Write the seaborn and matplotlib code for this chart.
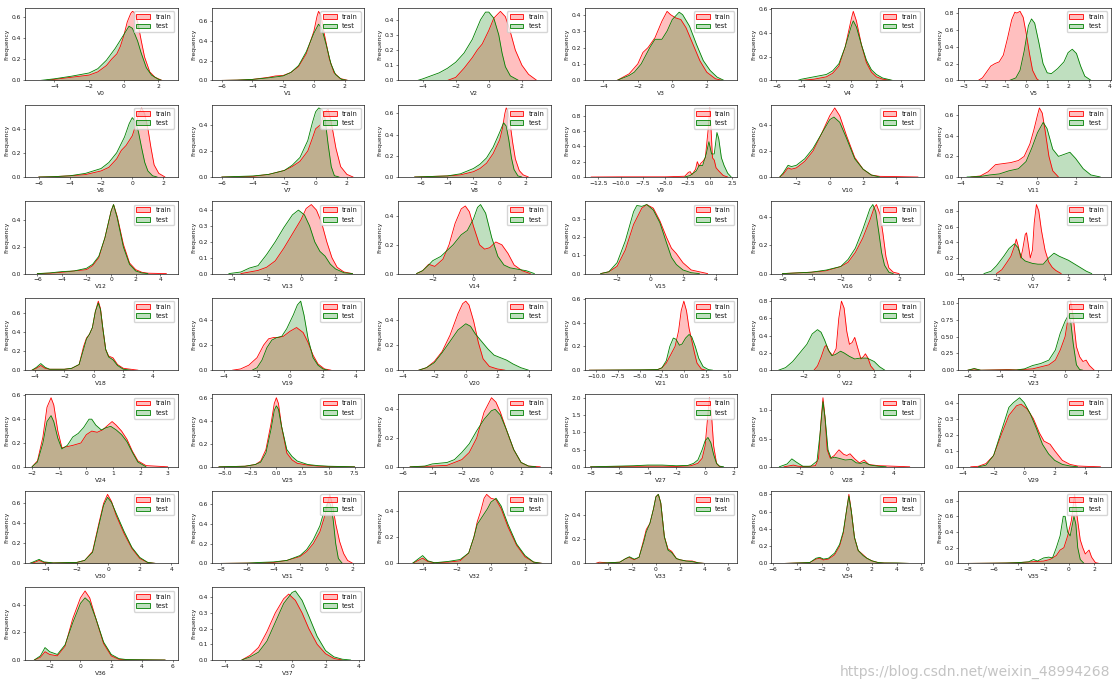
import matplotlib
matplotlib.use("Agg")
import matplotlib.pyplot as plt
import seaborn as sns
from matplotlib.colors import to_rgba
from matplotlib.patches import Patch
from matplotlib.ticker import MultipleLocator, MaxNLocator

# columns of the dataset, in plot order
columns = ["V%d" % i for i in range(38)]

# density curves: (value, density) pairs
train_curves = {
    "V0": [(-4.5, 0), (-4, 0.01), (-3, 0.03), (-2, 0.05), (-1.5, 0.08), (-1, 0.14), (-0.7, 0.2), (-0.4, 0.25), (-0.2, 0.32), (0, 0.42), (0.2, 0.55), (0.4, 0.63), (0.5, 0.65), (0.6, 0.64), (0.8, 0.55), (1.0, 0.38), (1.2, 0.22), (1.5, 0.08), (1.8, 0.03), (2.2, 0)],
    "V1": [(-6, 0), (-5, 0.003), (-4, 0.01), (-3, 0.03), (-2.5, 0.045), (-2, 0.05), (-1.5, 0.08), (-1, 0.14), (-0.5, 0.27), (0, 0.5), (0.2, 0.65), (0.3, 0.7), (0.45, 0.66), (0.7, 0.45), (1.0, 0.22), (1.3, 0.08), (1.7, 0.02), (2.2, 0)],
    "V2": [(-2.5, 0), (-2, 0.02), (-1.5, 0.08), (-1, 0.15), (-0.7, 0.2), (-0.4, 0.24), (0, 0.33), (0.3, 0.41), (0.7, 0.455), (1.0, 0.42), (1.3, 0.32), (1.6, 0.2), (2, 0.1), (2.4, 0.04), (2.9, 0)],
    "V3": [(-3.2, 0), (-2.5, 0.04), (-2, 0.1), (-1.7, 0.17), (-1.4, 0.2), (-1, 0.26), (-0.6, 0.36), (-0.3, 0.42), (-0.1, 0.4), (0.2, 0.38), (0.5, 0.37), (0.8, 0.32), (1.2, 0.22), (1.6, 0.12), (2, 0.05), (2.5, 0.01), (2.9, 0)],
    "V4": [(-4, 0), (-3, 0.01), (-2, 0.03), (-1.5, 0.06), (-1, 0.12), (-0.5, 0.28), (0, 0.52), (0.15, 0.58), (0.4, 0.5), (0.8, 0.3), (1.2, 0.15), (1.6, 0.07), (2, 0.03), (2.5, 0.01), (3.2, 0)],
    "V5": [(-2.3, 0), (-2.1, 0.03), (-1.9, 0.1), (-1.7, 0.17), (-1.5, 0.2), (-1.3, 0.22), (-1.1, 0.3), (-0.9, 0.5), (-0.7, 0.72), (-0.55, 0.81), (-0.45, 0.8), (-0.3, 0.82), (-0.15, 0.75), (0, 0.55), (0.15, 0.32), (0.3, 0.12), (0.5, 0.02), (0.6, 0)],
    "V6": [(-6, 0), (-5, 0.003), (-4, 0.01), (-3, 0.02), (-2, 0.05), (-1.5, 0.08), (-1, 0.15), (-0.7, 0.22), (-0.4, 0.26), (-0.2, 0.3), (0, 0.34), (0.2, 0.42), (0.4, 0.52), (0.6, 0.57), (0.8, 0.52), (1.0, 0.4), (1.2, 0.24), (1.4, 0.1), (1.7, 0.03), (2.1, 0)],
    "V7": [(-6, 0), (-4, 0.005), (-3, 0.02), (-2, 0.05), (-1.5, 0.08), (-1, 0.12), (-0.5, 0.2), (-0.2, 0.3), (0, 0.37), (0.3, 0.4), (0.6, 0.5), (0.8, 0.52), (1.0, 0.42), (1.3, 0.22), (1.6, 0.08), (2, 0.02), (2.4, 0)],
    "V8": [(-6.5, 0), (-4, 0.01), (-3, 0.02), (-2, 0.05), (-1.5, 0.08), (-1, 0.13), (-0.5, 0.22), (0, 0.35), (0.2, 0.45), (0.4, 0.6), (0.5, 0.65), (0.6, 0.63), (0.8, 0.5), (1.0, 0.32), (1.2, 0.17), (1.5, 0.06), (1.8, 0.02), (2.2, 0)],
    "V9": [(-13.3, 0), (-10, 0.002), (-5, 0.002), (-2.8, 0.01), (-2.4, 0.06), (-2.2, 0.07), (-2.0, 0.03), (-1.6, 0.1), (-1.4, 0.2), (-1.2, 0.14), (-1.0, 0.18), (-0.8, 0.2), (-0.5, 0.25), (-0.2, 0.6), (0, 0.9), (0.15, 0.6), (0.3, 0.25), (0.5, 0.22), (0.7, 0.12), (1.0, 0.08), (1.5, 0.02), (2, 0)],
    "V10": [(-3, 0), (-2.8, 0.02), (-2.5, 0.07), (-2.3, 0.06), (-2, 0.07), (-1.5, 0.12), (-1, 0.2), (-0.5, 0.33), (0, 0.47), (0.3, 0.53), (0.6, 0.47), (1, 0.32), (1.5, 0.15), (2, 0.06), (2.5, 0.015), (3, 0.005), (4, 0.003), (5.3, 0)],
    "V11": [(-3.5, 0), (-3, 0.01), (-2.6, 0.05), (-2.2, 0.12), (-1.8, 0.13), (-1.4, 0.14), (-1.0, 0.16), (-0.7, 0.2), (-0.4, 0.32), (-0.2, 0.45), (0, 0.6), (0.1, 0.67), (0.25, 0.62), (0.4, 0.45), (0.6, 0.2), (0.8, 0.06), (1.1, 0)],
    "V12": [(-6, 0), (-5, 0.003), (-4, 0.01), (-3, 0.02), (-2, 0.03), (-1.5, 0.06), (-1, 0.12), (-0.5, 0.27), (0, 0.47), (0.2, 0.52), (0.5, 0.43), (1, 0.22), (1.5, 0.08), (2, 0.03), (2.5, 0.01), (3, 0.003), (4.5, 0)],
    "V13": [(-3.5, 0), (-3, 0.01), (-2.5, 0.02), (-2, 0.04), (-1.5, 0.08), (-1, 0.16), (-0.5, 0.25), (0, 0.34), (0.3, 0.41), (0.6, 0.435), (0.9, 0.4), (1.2, 0.32), (1.5, 0.2), (1.8, 0.1), (2.1, 0.04), (2.5, 0.01), (3, 0)],
    "V14": [(-2.8, 0), (-2.5, 0.02), (-2.2, 0.065), (-1.9, 0.05), (-1.5, 0.1), (-1.2, 0.2), (-0.9, 0.35), (-0.6, 0.45), (-0.4, 0.47), (-0.2, 0.43), (0, 0.33), (0.3, 0.2), (0.55, 0.17), (0.8, 0.18), (1.1, 0.22), (1.4, 0.2), (1.7, 0.14), (2.0, 0.06), (2.4, 0.02), (2.8, 0)],
    "V15": [(-3, 0), (-2.5, 0.01), (-2, 0.04), (-1.5, 0.13), (-1, 0.27), (-0.5, 0.36), (-0.2, 0.38), (0.2, 0.36), (0.6, 0.29), (1.0, 0.2), (1.3, 0.14), (1.6, 0.11), (2.0, 0.06), (2.5, 0.02), (3, 0.01), (3.5, 0)],
    "V16": [(-6, 0), (-4, 0.01), (-3, 0.02), (-2, 0.05), (-1.5, 0.08), (-1, 0.15), (-0.5, 0.25), (0, 0.38), (0.3, 0.47), (0.45, 0.49), (0.7, 0.42), (0.9, 0.28), (1.1, 0.12), (1.3, 0.04), (1.6, 0.01), (2, 0)],
    "V17": [(-2, 0), (-1.7, 0.05), (-1.4, 0.15), (-1.2, 0.22), (-1.0, 0.35), (-0.9, 0.44), (-0.8, 0.36), (-0.65, 0.2), (-0.55, 0.3), (-0.4, 0.5), (-0.33, 0.52), (-0.25, 0.4), (-0.12, 0.2), (0, 0.3), (0.1, 0.65), (0.22, 0.88), (0.35, 0.8), (0.5, 0.55), (0.7, 0.3), (0.9, 0.15), (1.1, 0.08), (1.3, 0.04), (1.6, 0)],
    "V18": [(-4.2, 0), (-3.9, 0.02), (-3.6, 0.05), (-3.3, 0.02), (-3, 0.01), (-2, 0.01), (-1.5, 0.02), (-1, 0.06), (-0.7, 0.25), (-0.5, 0.34), (-0.3, 0.38), (-0.1, 0.45), (0.1, 0.62), (0.3, 0.73), (0.45, 0.65), (0.6, 0.45), (0.8, 0.22), (1.0, 0.15), (1.3, 0.13), (1.6, 0.06), (2, 0.02), (2.5, 0.01), (3, 0)],
    "V19": [(-3.5, 0), (-3, 0.01), (-2.5, 0.04), (-2, 0.1), (-1.6, 0.2), (-1.3, 0.25), (-1.0, 0.26), (-0.7, 0.26), (-0.4, 0.27), (0, 0.31), (0.4, 0.34), (0.8, 0.3), (1.1, 0.22), (1.4, 0.12), (1.7, 0.05), (2.1, 0.01), (2.5, 0)],
    "V20": [(-3, 0), (-2.5, 0.02), (-2, 0.07), (-1.5, 0.15), (-1, 0.28), (-0.5, 0.45), (-0.2, 0.53), (0, 0.55), (0.2, 0.52), (0.5, 0.39), (0.8, 0.22), (1.1, 0.09), (1.5, 0.03), (2, 0.01), (2.5, 0)],
    "V21": [(-10.8, 0), (-5, 0.002), (-3, 0.005), (-2.5, 0.02), (-2, 0.06), (-1.5, 0.13), (-1, 0.2), (-0.6, 0.33), (-0.3, 0.5), (0, 0.58), (0.3, 0.5), (0.6, 0.35), (0.9, 0.25), (1.2, 0.15), (1.5, 0.06), (2, 0.01), (2.5, 0)],
    "V22": [(-1.4, 0), (-1.2, 0.05), (-1.0, 0.15), (-0.8, 0.27), (-0.7, 0.29), (-0.55, 0.22), (-0.35, 0.17), (-0.15, 0.25), (0, 0.6), (0.15, 0.8), (0.3, 0.72), (0.45, 0.45), (0.6, 0.3), (0.75, 0.32), (0.9, 0.38), (1.05, 0.27), (1.25, 0.13), (1.4, 0.16), (1.5, 0.19), (1.65, 0.14), (1.8, 0.05), (2.0, 0)],
    "V23": [(-6, 0), (-5.6, 0.02), (-5.2, 0), (-3.5, 0.01), (-3, 0.005), (-2, 0.02), (-1.5, 0.05), (-1, 0.08), (-0.6, 0.15), (-0.3, 0.3), (0, 0.5), (0.2, 0.8), (0.35, 1.03), (0.5, 0.8), (0.7, 0.35), (0.9, 0.2), (1.1, 0.13), (1.3, 0.15), (1.5, 0.07), (1.8, 0)],
    "V24": [(-2, 0), (-1.8, 0.05), (-1.6, 0.25), (-1.45, 0.5), (-1.3, 0.58), (-1.2, 0.52), (-1.05, 0.3), (-0.9, 0.16), (-0.7, 0.17), (-0.5, 0.18), (-0.2, 0.2), (0, 0.27), (0.2, 0.3), (0.4, 0.29), (0.6, 0.31), (0.8, 0.35), (0.95, 0.38), (1.1, 0.35), (1.3, 0.3), (1.5, 0.23), (1.7, 0.13), (1.9, 0.05), (2.2, 0.01), (2.6, 0.005), (3, 0)],
    "V25": [(-5.5, 0), (-3, 0.005), (-2, 0.02), (-1.5, 0.05), (-1, 0.15), (-0.5, 0.38), (-0.2, 0.55), (0, 0.6), (0.2, 0.55), (0.5, 0.35), (1, 0.12), (1.5, 0.06), (2, 0.03), (3, 0.015), (4, 0.006), (5, 0.003), (7.5, 0)],
    "V26": [(-5.5, 0), (-4, 0.005), (-3, 0.01), (-2.5, 0.03), (-2, 0.05), (-1.5, 0.1), (-1, 0.2), (-0.5, 0.38), (0, 0.48), (0.3, 0.45), (0.6, 0.38), (1, 0.26), (1.5, 0.12), (2, 0.03), (2.5, 0.005), (3.3, 0)],
    "V27": [(-8, 0), (-6, 0.01), (-4, 0.02), (-3, 0.02), (-2, 0.01), (-1, 0.03), (-0.5, 0.1), (-0.2, 0.25), (0, 0.6), (0.15, 1.3), (0.3, 2.0), (0.45, 1.5), (0.6, 0.6), (0.8, 0.1), (1.0, 0.01), (1.2, 0)],
    "V28": [(-3, 0), (-2.6, 0.02), (-2.4, 0.03), (-2.1, 0.01), (-1.5, 0.005), (-1, 0.02), (-0.8, 0.15), (-0.65, 0.8), (-0.52, 1.22), (-0.4, 0.9), (-0.25, 0.3), (-0.05, 0.15), (0.2, 0.2), (0.5, 0.3), (0.8, 0.22), (1.0, 0.2), (1.2, 0.23), (1.5, 0.14), (1.8, 0.07), (2.1, 0.12), (2.4, 0.04), (3, 0.02), (4, 0.01), (5, 0)],
    "V29": [(-3.5, 0), (-3, 0.003), (-2.5, 0.02), (-2, 0.07), (-1.5, 0.2), (-1, 0.32), (-0.5, 0.38), (-0.2, 0.39), (0.2, 0.36), (0.6, 0.3), (1.0, 0.21), (1.3, 0.16), (1.7, 0.14), (2.0, 0.1), (2.5, 0.04), (3, 0.015), (3.5, 0.005), (4, 0.003), (5, 0)],
    "V30": [(-5, 0), (-4.7, 0.01), (-4.4, 0.03), (-4.1, 0.01), (-3.5, 0.005), (-2, 0.01), (-1.5, 0.03), (-1, 0.12), (-0.6, 0.4), (-0.3, 0.6), (-0.05, 0.69), (0.2, 0.62), (0.5, 0.48), (1, 0.3), (1.5, 0.15), (2, 0.05), (2.5, 0.01), (3, 0)],
    "V31": [(-8, 0), (-6, 0.003), (-5, 0.005), (-4, 0.01), (-3, 0.03), (-2, 0.07), (-1.5, 0.12), (-1, 0.2), (-0.5, 0.32), (-0.2, 0.45), (0, 0.55), (0.25, 0.7), (0.45, 0.6), (0.7, 0.4), (1.0, 0.22), (1.3, 0.1), (1.6, 0.03), (2, 0)],
    "V32": [(-4.6, 0), (-4.3, 0.02), (-4.0, 0.04), (-3.7, 0.015), (-3.3, 0.005), (-2.5, 0.01), (-1.8, 0.02), (-1.3, 0.08), (-1, 0.2), (-0.8, 0.32), (-0.6, 0.4), (-0.4, 0.5), (-0.25, 0.53), (0, 0.5), (0.3, 0.49), (0.6, 0.42), (1, 0.28), (1.5, 0.14), (2, 0.05), (2.5, 0.01), (3, 0)],
    "V33": [(-5, 0), (-4.7, 0.01), (-4, 0.005), (-3, 0.01), (-2.5, 0.04), (-2.2, 0.05), (-1.8, 0.03), (-1.4, 0.05), (-1, 0.2), (-0.8, 0.28), (-0.5, 0.33), (-0.2, 0.45), (0, 0.55), (0.2, 0.57), (0.4, 0.5), (0.7, 0.22), (1.0, 0.12), (1.3, 0.1), (1.7, 0.04), (2, 0.03), (2.5, 0.02), (3, 0.02), (3.5, 0.005), (4, 0)],
    "V34": [(-5, 0), (-4, 0.005), (-3, 0.01), (-2.5, 0.05), (-2.2, 0.06), (-1.9, 0.04), (-1.5, 0.05), (-1, 0.1), (-0.6, 0.2), (-0.3, 0.35), (0, 0.65), (0.15, 0.8), (0.35, 0.6), (0.6, 0.3), (0.9, 0.15), (1.3, 0.1), (1.6, 0.06), (2, 0.03), (2.5, 0.01), (3, 0.005), (4, 0.003), (5, 0)],
    "V35": [(-8, 0), (-6, 0.003), (-5, 0.005), (-4, 0.01), (-3, 0.02), (-2, 0.03), (-1.5, 0.05), (-1, 0.1), (-0.7, 0.17), (-0.4, 0.2), (-0.1, 0.35), (0.2, 0.55), (0.45, 0.88), (0.65, 0.6), (0.9, 0.3), (1.1, 0.2), (1.3, 0.12), (1.6, 0.17), (1.8, 0.08), (2.1, 0.01), (2.4, 0)],
    "V36": [(-3, 0), (-2.6, 0.02), (-2.3, 0.06), (-2.0, 0.04), (-1.5, 0.03), (-1, 0.1), (-0.5, 0.3), (0, 0.45), (0.3, 0.5), (0.6, 0.45), (1, 0.3), (1.5, 0.12), (2, 0.03), (2.5, 0.005), (3, 0.002), (5.5, 0)],
    "V37": [(-3, 0), (-2.5, 0.03), (-2, 0.08), (-1.5, 0.18), (-1, 0.3), (-0.5, 0.39), (-0.2, 0.42), (0.2, 0.38), (0.6, 0.3), (1, 0.2), (1.5, 0.1), (2, 0.04), (2.5, 0.01), (3, 0)],
}

test_curves = {
    "V0": [(-4.8, 0), (-4, 0.015), (-3, 0.04), (-2, 0.07), (-1.5, 0.11), (-1, 0.19), (-0.5, 0.3), (0, 0.43), (0.3, 0.51), (0.5, 0.49), (0.8, 0.37), (1.0, 0.26), (1.3, 0.12), (1.6, 0.05), (2.0, 0.01), (2.2, 0)],
    "V1": [(-6, 0), (-5, 0.003), (-4, 0.01), (-3, 0.025), (-2, 0.045), (-1.5, 0.08), (-1, 0.15), (-0.5, 0.29), (0, 0.48), (0.3, 0.57), (0.5, 0.53), (0.8, 0.36), (1.1, 0.17), (1.4, 0.06), (1.8, 0.01), (2.2, 0)],
    "V2": [(-4.3, 0), (-4, 0.01), (-3.5, 0.03), (-3, 0.05), (-2.5, 0.08), (-2, 0.12), (-1.5, 0.18), (-1, 0.27), (-0.5, 0.4), (-0.2, 0.45), (0, 0.45), (0.3, 0.41), (0.6, 0.3), (0.8, 0.18), (1.0, 0.09), (1.3, 0.03), (1.8, 0)],
    "V3": [(-3.2, 0), (-2.5, 0.03), (-2.2, 0.05), (-1.8, 0.1), (-1.3, 0.2), (-1, 0.25), (-0.6, 0.25), (-0.3, 0.3), (0, 0.37), (0.4, 0.415), (0.6, 0.4), (1.0, 0.33), (1.4, 0.22), (1.8, 0.12), (2.2, 0.06), (2.6, 0.02), (3.0, 0)],
    "V4": [(-4.3, 0), (-4, 0.01), (-3, 0.03), (-2, 0.05), (-1.5, 0.08), (-1, 0.14), (-0.5, 0.28), (0, 0.46), (0.15, 0.5), (0.4, 0.45), (0.8, 0.3), (1.2, 0.17), (1.6, 0.09), (2, 0.05), (2.5, 0.02), (3.3, 0)],
    "V5": [(-0.8, 0), (-0.5, 0.03), (-0.3, 0.12), (-0.1, 0.35), (0.1, 0.65), (0.25, 0.73), (0.4, 0.68), (0.6, 0.45), (0.8, 0.2), (1.0, 0.09), (1.2, 0.08), (1.5, 0.14), (1.8, 0.22), (2.0, 0.33), (2.2, 0.37), (2.4, 0.32), (2.6, 0.17), (2.8, 0.05), (3.1, 0)],
    "V6": [(-6, 0), (-5, 0.003), (-4, 0.01), (-3, 0.03), (-2, 0.07), (-1.5, 0.12), (-1, 0.2), (-0.5, 0.33), (-0.2, 0.44), (0, 0.49), (0.2, 0.46), (0.4, 0.37), (0.6, 0.24), (0.8, 0.12), (1.0, 0.05), (1.3, 0.01), (1.6, 0)],
    "V7": [(-6, 0), (-4, 0.008), (-3, 0.02), (-2, 0.05), (-1.5, 0.09), (-1, 0.15), (-0.5, 0.28), (-0.2, 0.42), (0, 0.5), (0.2, 0.53), (0.4, 0.52), (0.6, 0.45), (0.8, 0.25), (1.0, 0.08), (1.2, 0.01), (1.5, 0)],
    "V8": [(-6.5, 0), (-4, 0.01), (-3, 0.03), (-2, 0.08), (-1.5, 0.12), (-1, 0.18), (-0.5, 0.28), (0, 0.42), (0.3, 0.51), (0.5, 0.48), (0.7, 0.35), (0.9, 0.18), (1.1, 0.07), (1.4, 0.01), (1.7, 0)],
    "V9": [(-2.8, 0), (-2.5, 0.01), (-2.2, 0.02), (-1.5, 0.08), (-1.2, 0.15), (-0.8, 0.15), (-0.4, 0.3), (-0.1, 0.46), (0.2, 0.3), (0.5, 0.3), (0.8, 0.58), (1.0, 0.5), (1.3, 0.25), (1.6, 0.15), (2, 0.05), (2.4, 0)],
    "V10": [(-3, 0), (-2.8, 0.03), (-2.5, 0.09), (-2.3, 0.08), (-2, 0.09), (-1.5, 0.14), (-1, 0.22), (-0.5, 0.33), (0, 0.44), (0.25, 0.46), (0.6, 0.42), (1, 0.3), (1.5, 0.14), (2, 0.06), (2.5, 0.015), (3, 0)],
    "V11": [(-3.7, 0), (-3, 0.005), (-2.5, 0.02), (-2, 0.03), (-1.5, 0.06), (-1, 0.08), (-0.6, 0.15), (-0.3, 0.28), (0, 0.43), (0.3, 0.53), (0.5, 0.47), (0.8, 0.27), (1.1, 0.2), (1.4, 0.22), (1.7, 0.24), (2.0, 0.18), (2.4, 0.08), (2.8, 0.02), (3.3, 0)],
    "V12": [(-6, 0), (-5, 0.005), (-4, 0.015), (-3, 0.02), (-2, 0.04), (-1.5, 0.07), (-1, 0.13), (-0.5, 0.27), (0, 0.47), (0.2, 0.52), (0.5, 0.42), (1, 0.2), (1.5, 0.07), (2, 0.02), (2.5, 0.005), (3, 0)],
    "V13": [(-4.2, 0), (-3.5, 0.01), (-3, 0.035), (-2.5, 0.05), (-2, 0.12), (-1.5, 0.2), (-1, 0.29), (-0.5, 0.37), (-0.15, 0.4), (0.2, 0.37), (0.5, 0.3), (0.8, 0.2), (1.1, 0.14), (1.4, 0.11), (1.7, 0.06), (2, 0.03), (2.5, 0.005), (3, 0)],
    "V14": [(-2.8, 0), (-2.5, 0.02), (-2.2, 0.06), (-2, 0.09), (-1.6, 0.12), (-1.3, 0.16), (-1, 0.2), (-0.6, 0.27), (-0.3, 0.3), (0, 0.38), (0.2, 0.46), (0.35, 0.48), (0.6, 0.42), (0.9, 0.25), (1.2, 0.12), (1.5, 0.06), (1.8, 0.04), (2.2, 0.03), (2.6, 0.02), (3.0, 0)],
    "V15": [(-3, 0), (-2.5, 0.01), (-2, 0.06), (-1.5, 0.18), (-1, 0.34), (-0.8, 0.375), (-0.5, 0.37), (-0.2, 0.38), (0.2, 0.35), (0.6, 0.28), (1.0, 0.17), (1.3, 0.09), (1.6, 0.05), (2.0, 0.02), (2.5, 0.005), (3, 0)],
    "V16": [(-6, 0), (-4, 0.01), (-3, 0.025), (-2, 0.05), (-1.5, 0.1), (-1, 0.18), (-0.5, 0.31), (0, 0.46), (0.2, 0.49), (0.4, 0.44), (0.6, 0.3), (0.8, 0.15), (1.0, 0.06), (1.3, 0.01), (1.6, 0)],
    "V17": [(-2.7, 0), (-2.3, 0.03), (-2, 0.1), (-1.6, 0.22), (-1.3, 0.32), (-1.0, 0.38), (-0.8, 0.33), (-0.6, 0.2), (-0.4, 0.16), (0, 0.13), (0.3, 0.12), (0.6, 0.12), (0.9, 0.2), (1.2, 0.26), (1.5, 0.22), (2, 0.17), (2.5, 0.1), (3, 0.03), (3.3, 0)],
    "V18": [(-4.2, 0), (-3.9, 0.03), (-3.6, 0.07), (-3.3, 0.03), (-3, 0.01), (-2, 0.01), (-1.5, 0.02), (-1, 0.06), (-0.7, 0.22), (-0.5, 0.33), (-0.3, 0.38), (-0.1, 0.45), (0.1, 0.62), (0.3, 0.71), (0.45, 0.64), (0.6, 0.45), (0.8, 0.22), (1.0, 0.14), (1.3, 0.11), (1.6, 0.05), (2, 0.01), (2.5, 0)],
    "V19": [(-2.3, 0), (-2, 0.02), (-1.7, 0.08), (-1.4, 0.18), (-1.1, 0.24), (-0.8, 0.26), (-0.5, 0.27), (-0.2, 0.33), (0.2, 0.44), (0.45, 0.52), (0.65, 0.55), (0.85, 0.44), (1.1, 0.25), (1.4, 0.1), (1.7, 0.04), (2.0, 0.01), (2.3, 0)],
    "V20": [(-3, 0), (-2.5, 0.02), (-2, 0.06), (-1.5, 0.14), (-1, 0.23), (-0.5, 0.32), (0, 0.37), (0.3, 0.35), (0.6, 0.29), (1, 0.23), (1.4, 0.17), (1.8, 0.12), (2.2, 0.1), (2.6, 0.08), (3, 0.05), (3.5, 0.02), (4, 0)],
    "V21": [(-10.8, 0), (-5, 0.003), (-3, 0.005), (-2.5, 0.02), (-2, 0.08), (-1.6, 0.2), (-1.2, 0.27), (-0.9, 0.26), (-0.5, 0.21), (-0.2, 0.22), (0.2, 0.27), (0.6, 0.3), (0.9, 0.28), (1.3, 0.2), (1.7, 0.1), (2.2, 0.03), (2.8, 0.005), (3.3, 0)],
    "V22": [(-3.4, 0), (-3, 0.03), (-2.6, 0.1), (-2.2, 0.2), (-1.8, 0.3), (-1.5, 0.42), (-1.2, 0.47), (-1.0, 0.44), (-0.8, 0.35), (-0.6, 0.24), (-0.4, 0.17), (-0.2, 0.18), (0.1, 0.22), (0.3, 0.2), (0.6, 0.16), (0.9, 0.13), (1.2, 0.14), (1.6, 0.14), (2.0, 0.1), (2.3, 0.04), (2.6, 0)],
    "V23": [(-6, 0), (-5.6, 0.025), (-5.2, 0), (-3, 0.003), (-2.5, 0.02), (-2, 0.07), (-1.5, 0.1), (-1, 0.15), (-0.6, 0.3), (-0.3, 0.55), (0, 0.73), (0.2, 0.82), (0.35, 0.72), (0.5, 0.4), (0.7, 0.08), (0.9, 0.01), (1.1, 0)],
    "V24": [(-2, 0), (-1.8, 0.04), (-1.6, 0.2), (-1.45, 0.38), (-1.3, 0.43), (-1.2, 0.38), (-1.05, 0.24), (-0.9, 0.15), (-0.7, 0.18), (-0.5, 0.25), (-0.3, 0.28), (-0.1, 0.33), (0.1, 0.4), (0.2, 0.4), (0.35, 0.35), (0.55, 0.31), (0.75, 0.33), (0.9, 0.34), (1.1, 0.31), (1.3, 0.27), (1.5, 0.21), (1.7, 0.12), (1.9, 0.04), (2.2, 0)],
    "V25": [(-5.5, 0), (-3, 0.005), (-2, 0.02), (-1.5, 0.04), (-1, 0.12), (-0.5, 0.33), (-0.2, 0.49), (0, 0.53), (0.2, 0.5), (0.5, 0.35), (1, 0.15), (1.5, 0.09), (2, 0.05), (3, 0.02), (4, 0.01), (5, 0.005), (7.5, 0)],
    "V26": [(-5.5, 0), (-4.5, 0.005), (-4, 0.02), (-3.5, 0.025), (-3, 0.03), (-2.5, 0.05), (-2, 0.1), (-1.5, 0.16), (-1, 0.25), (-0.5, 0.33), (0, 0.39), (0.25, 0.4), (0.6, 0.36), (1, 0.26), (1.5, 0.12), (2, 0.03), (2.5, 0.005), (3, 0)],
    "V27": [(-8, 0), (-6, 0.02), (-5, 0.03), (-4, 0.05), (-3, 0.05), (-2, 0.03), (-1.2, 0.04), (-0.8, 0.1), (-0.5, 0.2), (-0.2, 0.5), (0, 0.75), (0.2, 0.85), (0.4, 0.7), (0.6, 0.35), (0.8, 0.1), (1.0, 0.02), (1.3, 0)],
    "V28": [(-3.3, 0), (-2.8, 0.05), (-2.5, 0.14), (-2.2, 0.08), (-1.8, 0.01), (-1.3, 0.01), (-0.9, 0.1), (-0.7, 0.6), (-0.52, 1.15), (-0.38, 0.85), (-0.2, 0.3), (0, 0.15), (0.2, 0.17), (0.5, 0.15), (0.9, 0.12), (1.3, 0.13), (1.6, 0.07), (1.9, 0.06), (2.1, 0.08), (2.5, 0.03), (3, 0.01), (3.5, 0)],
    "V29": [(-3, 0), (-2.5, 0.01), (-2, 0.07), (-1.5, 0.22), (-1, 0.37), (-0.7, 0.4), (-0.3, 0.43), (0, 0.4), (0.4, 0.33), (0.8, 0.24), (1.2, 0.14), (1.6, 0.08), (2, 0.04), (2.5, 0.015), (3, 0.005), (3.5, 0)],
    "V30": [(-5, 0), (-4.7, 0.02), (-4.4, 0.04), (-4.1, 0.015), (-3.5, 0.005), (-2, 0.01), (-1.5, 0.03), (-1, 0.11), (-0.6, 0.38), (-0.3, 0.58), (-0.05, 0.66), (0.2, 0.61), (0.5, 0.5), (1, 0.32), (1.5, 0.16), (2, 0.06), (2.5, 0.01), (3, 0)],
    "V31": [(-8, 0), (-6, 0.003), (-5, 0.01), (-4, 0.015), (-3, 0.03), (-2, 0.08), (-1.5, 0.14), (-1, 0.24), (-0.5, 0.38), (-0.2, 0.52), (0.1, 0.62), (0.3, 0.6), (0.5, 0.45), (0.7, 0.2), (0.9, 0.05), (1.2, 0)],
    "V32": [(-4.6, 0), (-4.3, 0.03), (-4.0, 0.06), (-3.7, 0.02), (-3.3, 0.005), (-2.5, 0.015), (-1.8, 0.03), (-1.3, 0.08), (-1, 0.2), (-0.8, 0.3), (-0.5, 0.36), (-0.2, 0.42), (0, 0.47), (0.3, 0.5), (0.6, 0.44), (1, 0.3), (1.5, 0.15), (2, 0.06), (2.5, 0.01), (3, 0)],
    "V33": [(-5, 0), (-4, 0.005), (-3, 0.01), (-2.5, 0.04), (-2.2, 0.055), (-1.8, 0.035), (-1.4, 0.05), (-1, 0.18), (-0.8, 0.26), (-0.5, 0.33), (-0.2, 0.45), (0, 0.55), (0.2, 0.57), (0.4, 0.5), (0.7, 0.22), (1.0, 0.11), (1.3, 0.09), (1.7, 0.04), (2, 0.03), (2.5, 0.02), (3, 0.015), (3.5, 0.005), (4, 0)],
    "V34": [(-5, 0), (-4, 0.005), (-3, 0.01), (-2.5, 0.06), (-2.2, 0.07), (-1.9, 0.05), (-1.5, 0.06), (-1, 0.12), (-0.6, 0.22), (-0.3, 0.37), (0, 0.65), (0.15, 0.78), (0.35, 0.6), (0.6, 0.3), (0.9, 0.15), (1.3, 0.09), (1.6, 0.06), (2, 0.03), (2.5, 0.01), (3, 0.005), (4, 0.005), (5, 0)],
    "V35": [(-8, 0), (-6, 0.003), (-5, 0.005), (-4, 0.01), (-3.2, 0.02), (-2.8, 0.05), (-2.5, 0.03), (-2, 0.07), (-1.6, 0.08), (-1.3, 0.07), (-1.0, 0.2), (-0.7, 0.35), (-0.45, 0.6), (-0.3, 0.6), (-0.1, 0.4), (0.1, 0.35), (0.4, 0.6), (0.55, 0.5), (0.7, 0.2), (0.9, 0.05), (1.2, 0)],
    "V36": [(-3, 0), (-2.6, 0.03), (-2.3, 0.09), (-2.0, 0.06), (-1.5, 0.04), (-1, 0.11), (-0.5, 0.27), (0, 0.41), (0.3, 0.45), (0.6, 0.42), (1, 0.3), (1.5, 0.13), (2, 0.04), (2.5, 0.01), (3, 0.003), (5.5, 0)],
    "V37": [(-3, 0), (-2.5, 0.02), (-2, 0.05), (-1.5, 0.12), (-1, 0.24), (-0.5, 0.36), (0, 0.43), (0.2, 0.44), (0.6, 0.38), (1, 0.28), (1.5, 0.15), (2, 0.06), (2.5, 0.02), (3, 0.005), (3.5, 0)],
}

# visible x range of each panel and spacing of its x ticks
x_limits = {
    "V0": (-5.7, 3.1), "V1": (-6.65, 3.26), "V2": (-5.48, 3.74), "V3": (-5.07, 3.77),
    "V4": (-6.4, 5.8), "V5": (-3.27, 4.03), "V6": (-6.88, 2.9), "V7": (-6.65, 3.1),
    "V8": (-7.75, 3.9), "V9": (-14.0, 3.08), "V10": (-3.5, 5.65), "V11": (-4.17, 3.83),
    "V12": (-7.0, 5.4), "V13": (-5.2, 3.67), "V14": (-3.7, 3.8), "V15": (-3.96, 5.3),
    "V16": (-6.75, 3.7), "V17": (-4.14, 4.34), "V18": (-4.67, 5.67), "V19": (-4.76, 4.5),
    "V20": (-4.3, 5.4), "V21": (-11.3, 6.1), "V22": (-3.8, 4.8), "V23": (-6.6, 2.8),
    "V24": (-2.26, 3.36), "V25": (-6.2, 8.4), "V26": (-6.3, 4.0), "V27": (-8.4, 2.25),
    "V28": (-3.8, 5.9), "V29": (-4.33, 5.65), "V30": (-5.3, 4.4), "V31": (-8.7, 2.85),
    "V32": (-5.43, 3.5), "V33": (-5.9, 6.75), "V34": (-6.1, 6.2), "V35": (-8.8, 3.3),
    "V36": (-3.6, 6.3), "V37": (-4.8, 4.3),
}
x_tick_step = {"V5": 1, "V24": 1, "V9": 2.5, "V21": 2.5, "V25": 2.5}

sns.set_style("ticks", {"axes.edgecolor": "0.1", "xtick.color": "0.1", "ytick.color": "0.1",
                        "text.color": "0.1", "axes.labelcolor": "0.1"})
plt.rcParams["font.family"] = ["DejaVu Sans"]

FS = 4.3
fig = plt.figure(figsize=(11.2, 6.89), dpi=100)
W, H = 1120, 689

for i, name in enumerate(columns):
    r, c = divmod(i, 6)
    left = 25 + 186.6 * c
    top = 7.9 + 96.6 * r
    ax = fig.add_axes([left / W, 1 - (top + 72.5) / H, 152.5 / W, 72.5 / H])

    for curves, color in ((train_curves, "red"), (test_curves, "green")):
        xs = [p[0] for p in curves[name]]
        ys = [p[1] for p in curves[name]]
        ax.fill_between(xs, ys, color=to_rgba(color, 0.25), linewidth=0)
        sns.lineplot(x=xs, y=ys, color=color, linewidth=0.6, ax=ax)

    ax.set_xlim(*x_limits[name])
    ax.set_ylim(bottom=0)
    ax.xaxis.set_major_locator(MultipleLocator(x_tick_step.get(name, 2)))
    ax.yaxis.set_major_locator(MaxNLocator(nbins=5, steps=[1, 2, 2.5, 5, 10]))
    ax.set_xlabel(name, fontsize=FS, labelpad=1.5)
    ax.set_ylabel("Frequency", fontsize=FS, labelpad=1.5)
    ax.tick_params(labelsize=FS, length=1.5, width=0.4, pad=1.2)
    for s in ax.spines.values():
        s.set_linewidth(0.5)
        s.set_visible(True)

    handles = [Patch(facecolor=to_rgba("red", 0.25), edgecolor="red", linewidth=0.6, label="train"),
               Patch(facecolor=to_rgba("green", 0.25), edgecolor="green", linewidth=0.6, label="test")]
    ax.legend(handles=handles, loc="upper right", fontsize=4.9, frameon=True,
              borderaxespad=0.5, handlelength=2.0)

fig.text(0.991, 0.025, "https://blog.csdn.net/weixin_48994268", ha="right", va="center",
         fontsize=10, color="#c4c4c4")

fig.savefig("out.png", dpi=100)
